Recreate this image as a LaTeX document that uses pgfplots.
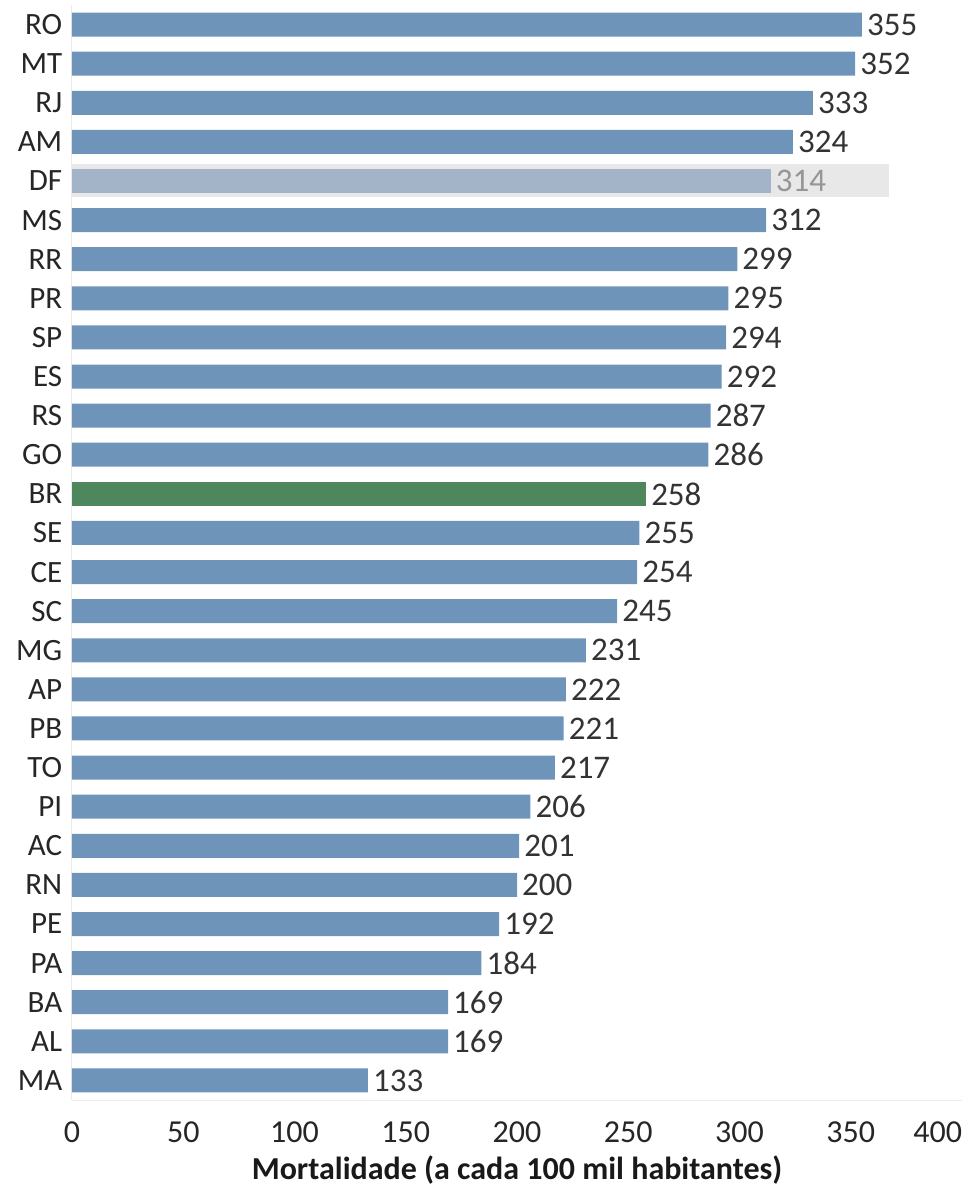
\documentclass[border=0pt]{standalone}
\usepackage{fontspec}
\setmainfont{Carlito}
\usepackage{pgfplots}
\pgfplotsset{compat=1.18}
\definecolor{barblue}{RGB}{110,148,185}
\definecolor{dfbar}{RGB}{164,180,200}
\definecolor{band}{RGB}{232,232,232}
\definecolor{brgreen}{RGB}{78,135,94}
\definecolor{labtxt}{RGB}{51,51,51}
\definecolor{dflab}{RGB}{150,150,150}
\definecolor{axln}{RGB}{235,235,235}
\begin{document}
\begin{tikzpicture}
\path[use as bounding box] (-72pt,-91pt) rectangle (899pt,1100pt);
\begin{axis}[
  at={(0pt,0pt)}, anchor=south west,
  scale only axis, width=890pt, height=1095pt,
  xmin=0, xmax=400, ymin=-0.5, ymax=27.5,
  y dir=reverse,
  xbar, bar width=24pt,
  ytick={0,...,27},
  yticklabels={RO,MT,RJ,AM,DF,MS,RR,PR,SP,ES,RS,GO,BR,SE,CE,SC,MG,AP,PB,TO,PI,AC,RN,PE,PA,BA,AL,MA},
  xtick={0,50,...,400},
  xticklabels={0,50,100,150,200,250,300,350,\hbox to 0pt{\hss 400}},
  tick style={draw=none},
  axis x line*=bottom, axis y line*=left,
  axis line style={-, draw=axln, line width=1pt},
  yticklabel style={font=\fontsize{31}{31}\selectfont, color=black!85, xshift=-2pt},
  xticklabel style={font=\fontsize{32}{32}\selectfont, color=black!85, yshift=-18pt},
  /pgf/number format/assume math mode=true,
  xlabel={\textbf{Mortalidade (a cada 100 mil habitantes)}},
  xlabel style={font=\fontsize{32}{32}\selectfont, color=black!90, yshift=-6pt},
  clip=false,
]
\addplot[fill=band, draw=none, bar width=33pt, bar shift=0pt] coordinates {(367,4)};
\addplot[fill=barblue, draw=none, bar shift=0pt,
  nodes near coords,
  every node near coord/.append style={font=\fontsize{33}{33}\selectfont, color=labtxt, anchor=west, inner sep=2pt, xshift=3pt}]
  coordinates {(355,0) (352,1) (333,2) (324,3) (312,5) (299,6) (295,7) (294,8) (292,9) (287,10) (286,11)
  (255,13) (254,14) (245,15) (231,16) (222,17) (221,18) (217,19) (206,20) (201,21) (200,22) (192,23) (184,24) (169,25) (169,26) (133,27)};
\addplot[fill=dfbar, draw=none, bar shift=0pt,
  nodes near coords,
  every node near coord/.append style={font=\fontsize{33}{33}\selectfont, color=dflab, anchor=west, inner sep=2pt, xshift=3pt}]
  coordinates {(314,4)};
\addplot[fill=brgreen, draw=none, bar shift=0pt,
  nodes near coords,
  every node near coord/.append style={font=\fontsize{33}{33}\selectfont, color=labtxt, anchor=west, inner sep=2pt, xshift=3pt}]
  coordinates {(258,12)};
\end{axis}
\end{tikzpicture}
\end{document}
